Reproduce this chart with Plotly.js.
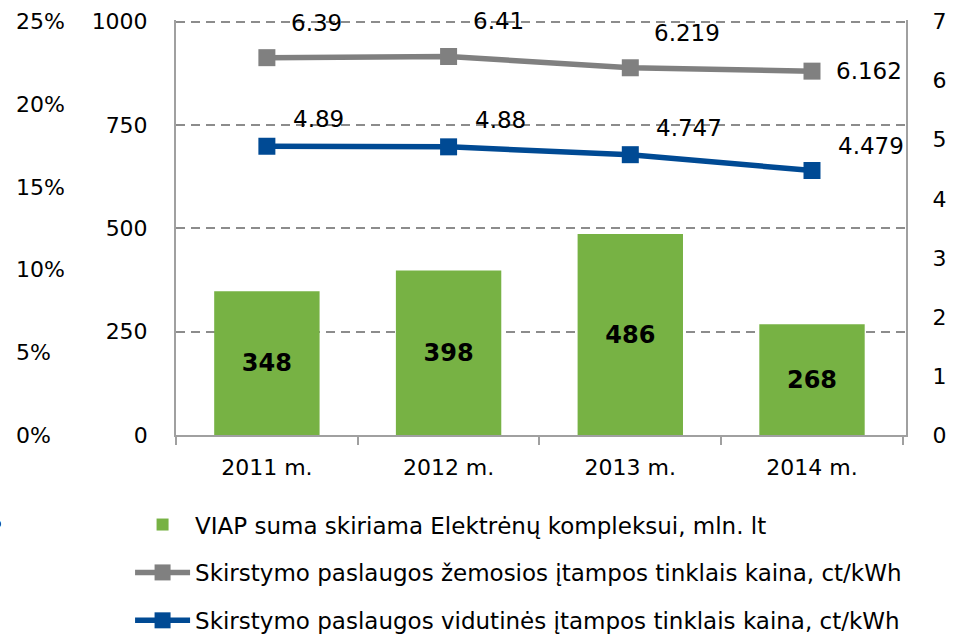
<!DOCTYPE html>
<html>
<head>
<meta charset="utf-8">
<script src="https://cdn.plot.ly/plotly-3.0.1.min.js"></script>
<style>
  html, body { margin: 0; padding: 0; background: #fff; }
  #divplot { width: 957px; height: 636px; }
</style>
</head>
<body>
<div id="divplot"></div>
<script>
var years = ['2011 m.', '2012 m.', '2013 m.', '2014 m.'];
var viapSum = [348, 398, 486, 268];
var lowVoltPrice = [6.39, 6.41, 6.219, 6.162];
var midVoltPrice = [4.89, 4.88, 4.747, 4.479];

var nameBar = 'VIAP suma skiriama Elektrėnų kompleksui, mln. lt';
var nameLow = 'Skirstymo paslaugos žemosios įtampos tinklais kaina, ct/kWh';
var nameMid = 'Skirstymo paslaugos vidutinės įtampos tinklais kaina, ct/kWh';

var FONT = 'DejaVu Sans, Verdana, sans-serif';
var GRAY = '#808080';
var BLUE = '#004a94';
var GREEN = '#77b244';

// small headroom so the dashed 1000 gridline is not clipped at the top edge
var TOP = 1.004;

var barTrace = {
    x: years,
    y: viapSum,
    name: nameBar,
    type: 'bar',
    width: 0.58,
    marker: {color: GREEN},
    text: viapSum.map(String),
    textposition: 'inside',
    insidetextanchor: 'middle',
    textangle: 0,
    textfont: {family: FONT, size: 24, color: '#000', weight: 'bold'},
    legendgroup: 'a',
    hoverinfo: 'x+y'
};

var lowTrace = {
    x: years,
    y: lowVoltPrice,
    name: nameLow,
    yaxis: 'y2',
    type: 'scatter',
    mode: 'lines+markers',
    line: {color: GRAY, width: 5.5},
    marker: {symbol: 'square', size: 17, color: GRAY},
    legendgroup: 'b'
};

var midTrace = {
    x: years,
    y: midVoltPrice,
    name: nameMid,
    yaxis: 'y2',
    type: 'scatter',
    mode: 'lines+markers',
    line: {color: BLUE, width: 5.5},
    marker: {symbol: 'square', size: 17, color: BLUE},
    legendgroup: 'c'
};

// percent axis only needs a dummy trace to exist
var pctTrace = {
    x: years,
    y: [null, null, null, null],
    yaxis: 'y3',
    type: 'scatter',
    mode: 'markers',
    showlegend: false,
    hoverinfo: 'skip'
};

// value labels next to the line markers
var annotations = [];
var last = years.length - 1;
years.forEach(function(yr, i){
    annotations.push({
        x: yr, y: lowVoltPrice[i], xref: 'x', yref: 'y2',
        text: String(lowVoltPrice[i]),
        showarrow: false, xanchor: 'left', yanchor: 'middle',
        xshift: 22, yshift: i === last ? 0 : 35,
        font: {family: FONT, size: 23, color: '#000'}
    });
    annotations.push({
        x: yr, y: midVoltPrice[i], xref: 'x', yref: 'y2',
        text: String(midVoltPrice[i]),
        showarrow: false, xanchor: 'left', yanchor: 'middle',
        xshift: 24, yshift: i === last ? 25 : 27,
        font: {family: FONT, size: 23, color: '#000'}
    });
});
// clipped leftover glyph at the very left edge
annotations.push({
    x: -0.0067, y: -0.207, xref: 'paper', yref: 'paper',
    text: '%', showarrow: false, xanchor: 'right', yanchor: 'middle',
    font: {family: FONT, size: 22, color: '#000'}
});

var traceData = [barTrace, lowTrace, midTrace, pctTrace];

var layout = {
    width: 957,
    height: 636,
    margin: {l: 10, r: 51, t: 20, b: 201},
    paper_bgcolor: '#fff',
    plot_bgcolor: '#fff',
    font: {family: FONT, size: 22, color: '#000'},
    showlegend: true,
    xaxis: {
        domain: [0.1853, 1],
        type: 'category',
        showline: true,
        linecolor: '#a0a0a0',
        linewidth: 2,
        ticks: 'outside',
        tickson: 'boundaries',
        ticklen: 8,
        tickwidth: 2,
        tickcolor: '#a0a0a0',
        showgrid: false,
        tickfont: {family: FONT, size: 22},
        ticklabelstandoff: 12
    },
    yaxis: {
        range: [0, 1000 * TOP],
        tickvals: [0, 250, 500, 750, 1000],
        showline: true,
        linecolor: '#a0a0a0',
        linewidth: 2,
        showgrid: true,
        gridcolor: '#8c8c8c',
        gridwidth: 2,
        griddash: '9px,6px',
        zeroline: false,
        ticks: '',
        ticklabelstandoff: 22,
        tickfont: {family: FONT, size: 22}
    },
    yaxis2: {
        range: [0, 7 * TOP],
        tickvals: [0, 1, 2, 3, 4, 5, 6, 7],
        overlaying: 'y',
        side: 'right',
        anchor: 'x',
        showline: true,
        linecolor: '#a0a0a0',
        linewidth: 2,
        showgrid: false,
        zeroline: false,
        ticks: '',
        ticklabelstandoff: 20,
        tickfont: {family: FONT, size: 22}
    },
    yaxis3: {
        range: [0, 0.25 * TOP],
        tickvals: [0, 0.05, 0.1, 0.15, 0.2, 0.25],
        tickformat: '.0%',
        overlaying: 'y',
        side: 'right',
        anchor: 'free',
        position: 0,
        showline: false,
        showgrid: false,
        zeroline: false,
        ticks: '',
        ticklabelstandoff: 5,
        tickfont: {family: FONT, size: 22}
    },
    legend: {
        x: 0.134,
        xref: 'paper',
        y: 0.209,
        yref: 'container',
        xanchor: 'left',
        yanchor: 'top',
        orientation: 'v',
        traceorder: 'grouped',
        tracegroupgap: 15,
        font: {family: FONT, size: 23, color: '#000'},
        bgcolor: 'rgba(0,0,0,0)',
        itemwidth: 55
    },
    annotations: annotations
};

Plotly.newPlot('divplot', traceData, layout, {displayModeBar: false, staticPlot: true});
</script>
</body>
</html>
